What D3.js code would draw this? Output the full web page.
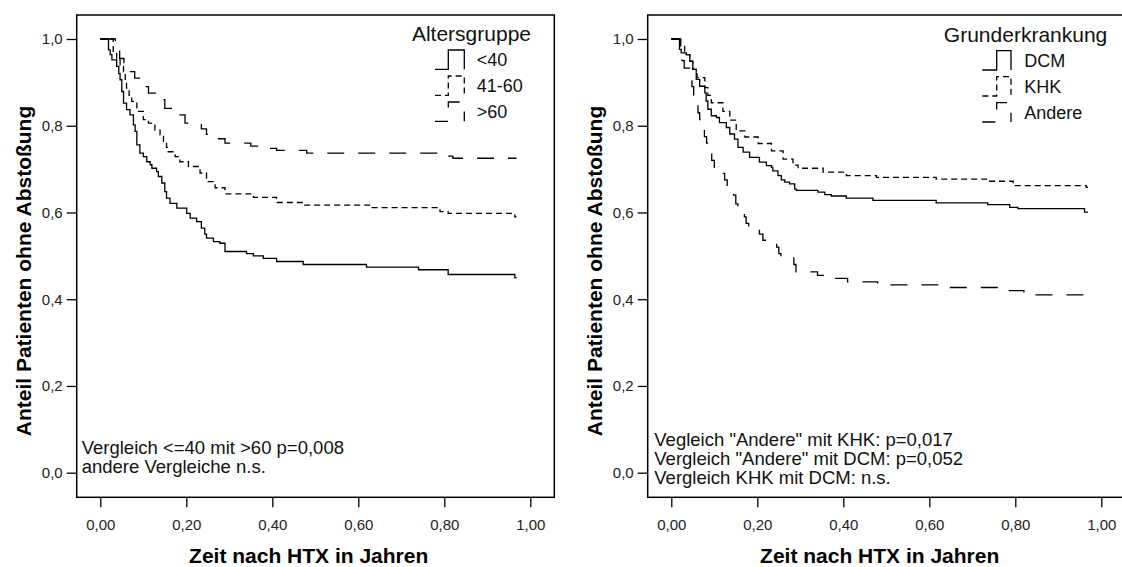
<!DOCTYPE html>
<html lang="de">
<head>
<meta charset="utf-8">
<title>Abstoßungsfreiheit nach HTX</title>
<style>
  body { margin: 0; background: #fff; }
  svg { display: block; font-family: "Liberation Sans", Arial, Helvetica, sans-serif; }
  .frame { fill: none; stroke: #000; stroke-width: 1.5px; }
  .curve { fill: none; stroke: #000; stroke-width: 1.3px; }
  .axis text { font-size: 15px; fill: #222; }
  .axis line { stroke: #000; stroke-width: 1.3px; }
  .axis .domain { display: none; }
  .axis-title { font-size: 21px; font-weight: bold; fill: #000; }
  .legend-title { font-size: 21px; fill: #111; }
  .legend-item { font-size: 18px; fill: #111; }
  .note { font-size: 18.5px; fill: #111; }
</style>
</head>
<body>
<div id="chart"></div>
<script src="https://d3js.org/d3.v7.min.js"></script>
<script>
var width = 1122, height = 567;

var xTicks = [0, 0.2, 0.4, 0.6, 0.8, 1.0];
var yTicks = [0, 0.2, 0.4, 0.6, 0.8, 1.0];
var xTitle = "Zeit nach HTX in Jahren";
var yTitle = "Anteil Patienten ohne Abstoßung";

// Altersgruppe -- [Zeit in Jahren, Anteil ohne Abstoßung]
var ageLabels = ["<40", "41-60", ">60"];
var ageUnder40 = [
  [0, 1.0], [0.019, 0.975], [0.023, 0.964], [0.027, 0.952], [0.038, 0.937], [0.043, 0.92],
  [0.046, 0.906], [0.05, 0.879], [0.054, 0.852], [0.061, 0.837], [0.069, 0.825], [0.077, 0.802],
  [0.081, 0.787], [0.085, 0.756], [0.092, 0.737], [0.1, 0.729], [0.108, 0.717], [0.116, 0.71],
  [0.12, 0.702], [0.131, 0.694], [0.135, 0.683], [0.143, 0.668], [0.15, 0.648], [0.154, 0.633],
  [0.162, 0.621], [0.178, 0.61], [0.201, 0.598], [0.209, 0.587], [0.224, 0.579], [0.235, 0.564],
  [0.243, 0.55], [0.247, 0.541], [0.263, 0.533], [0.278, 0.529], [0.29, 0.51], [0.34, 0.505],
  [0.356, 0.5], [0.379, 0.494], [0.41, 0.487], [0.472, 0.48], [0.619, 0.474], [0.74, 0.468],
  [0.809, 0.457], [0.964, 0.449], [0.968, 0.449]
];
var age41to60 = [
  [0, 1.0], [0.03, 0.967], [0.038, 0.952], [0.046, 0.94], [0.054, 0.925], [0.058, 0.905],
  [0.061, 0.887], [0.067, 0.87], [0.073, 0.856], [0.085, 0.833], [0.1, 0.814], [0.112, 0.806],
  [0.127, 0.79], [0.139, 0.779], [0.147, 0.764], [0.154, 0.75], [0.158, 0.74], [0.174, 0.729],
  [0.185, 0.717], [0.205, 0.706], [0.232, 0.691], [0.247, 0.671], [0.267, 0.657], [0.29, 0.643],
  [0.356, 0.635], [0.41, 0.623], [0.472, 0.617], [0.63, 0.611], [0.79, 0.602], [0.809, 0.598],
  [0.964, 0.59], [0.968, 0.59]
];
var ageOver60 = [
  [0, 1.0], [0.035, 0.975], [0.045, 0.955], [0.055, 0.94], [0.07, 0.925], [0.08, 0.91],
  [0.1, 0.89], [0.112, 0.875], [0.14, 0.86], [0.15, 0.84], [0.175, 0.825], [0.197, 0.806],
  [0.235, 0.793], [0.247, 0.78], [0.275, 0.77], [0.29, 0.76], [0.35, 0.753], [0.38, 0.748],
  [0.41, 0.743], [0.48, 0.737], [0.79, 0.73], [0.82, 0.725], [0.968, 0.725]
];
var ageNotes = ["Vergleich <=40 mit >60 p=0,008", "andere Vergleiche n.s."];

// Grunderkrankung
var diseaseLabels = ["DCM", "KHK", "Andere"];
var dcm = [
  [0, 1.0], [0.019, 0.976], [0.023, 0.968], [0.035, 0.964], [0.043, 0.949], [0.05, 0.93],
  [0.058, 0.907], [0.066, 0.891], [0.078, 0.876], [0.081, 0.857], [0.085, 0.838], [0.093, 0.823],
  [0.105, 0.819], [0.112, 0.807], [0.128, 0.796], [0.136, 0.781], [0.147, 0.769], [0.155, 0.75],
  [0.167, 0.739], [0.182, 0.727], [0.205, 0.716], [0.221, 0.708], [0.233, 0.704], [0.236, 0.696],
  [0.248, 0.685], [0.256, 0.675], [0.264, 0.67], [0.275, 0.666], [0.287, 0.654], [0.291, 0.651],
  [0.341, 0.647], [0.357, 0.641], [0.372, 0.638], [0.407, 0.633], [0.469, 0.628], [0.616, 0.622],
  [0.736, 0.618], [0.787, 0.612], [0.806, 0.609], [0.961, 0.601], [0.969, 0.601]
];
var khk = [
  [0, 1.0], [0.02, 0.985], [0.031, 0.964], [0.043, 0.949], [0.05, 0.93], [0.06, 0.911],
  [0.078, 0.888], [0.085, 0.87], [0.093, 0.853], [0.12, 0.833], [0.136, 0.813], [0.151, 0.788],
  [0.171, 0.774], [0.202, 0.759], [0.233, 0.742], [0.26, 0.723], [0.283, 0.709], [0.295, 0.702],
  [0.353, 0.693], [0.407, 0.685], [0.477, 0.681], [0.616, 0.677], [0.736, 0.672], [0.795, 0.662],
  [0.965, 0.658], [0.969, 0.658]
];
var andere = [
  [0, 1.0], [0.022, 0.975], [0.025, 0.95], [0.03, 0.933], [0.045, 0.915], [0.048, 0.89],
  [0.052, 0.871], [0.06, 0.85], [0.062, 0.83], [0.066, 0.814], [0.075, 0.795], [0.077, 0.775],
  [0.082, 0.76], [0.09, 0.74], [0.094, 0.72], [0.1, 0.702], [0.12, 0.69], [0.124, 0.675],
  [0.13, 0.66], [0.145, 0.64], [0.15, 0.62], [0.155, 0.605], [0.17, 0.59], [0.174, 0.575],
  [0.18, 0.567], [0.205, 0.55], [0.213, 0.536], [0.245, 0.52], [0.25, 0.505], [0.255, 0.495],
  [0.285, 0.48], [0.29, 0.463], [0.34, 0.455], [0.36, 0.448], [0.41, 0.44], [0.48, 0.433],
  [0.63, 0.427], [0.765, 0.42], [0.82, 0.41], [0.961, 0.4], [0.969, 0.4]
];
var diseaseNotes = [
  "Vegleich \"Andere\" mit KHK: p=0,017",
  "Vergleich \"Andere\" mit DCM: p=0,052",
  "Vergleich KHK mit DCM: n.s."
];

var dashes = [null, "6,4", "17,14"];

var panels = [
  {
    left: 76.7, legendTitle: "Altersgruppe", labels: ageLabels,
    series: [ageUnder40, age41to60, ageOver60], notes: ageNotes,
    lg: { titleX: 531, titleY: 41, x0: 435, x1: 448.3, x2: 464.3, textX: 476.7, rows: [66, 92, 118] },
    noteX: 81.7, noteY: 454, noteStep: 19.3
  },
  {
    left: 647.7, legendTitle: "Grunderkrankung", labels: diseaseLabels,
    series: [dcm, khk, andere], notes: diseaseNotes,
    lg: { titleX: 1107.3, titleY: 41.7, x0: 982.3, x1: 996.7, x2: 1011, textX: 1024.3, rows: [66.7, 92.7, 118.7] },
    noteX: 654.3, noteY: 446, noteStep: 19.2
  }
];

var frameTop = 15, frameBottom = 497.3, frameWidth = 477.6;

var svg = d3.select("#chart")
    .append("svg")
    .attr("width", width)
    .attr("height", height);

function fmtX(d) { return d3.format(".2f")(d).replace(".", ","); }
function fmtY(d) { return d3.format(".1f")(d).replace(".", ","); }

panels.forEach(function(p) {
  var g = svg.append("g");

  var x = d3.scaleLinear().domain([0, 1]).range([p.left + 23.6, p.left + 453.6]);
  var y = d3.scaleLinear().domain([0, 1]).range([472.7, 39]);

  g.append("rect")
      .attr("class", "frame")
      .attr("x", p.left)
      .attr("y", frameTop)
      .attr("width", frameWidth)
      .attr("height", frameBottom - frameTop);

  g.append("g")
      .attr("class", "axis")
      .attr("transform", "translate(0," + frameBottom + ")")
      .call(d3.axisBottom(x).tickValues(xTicks).tickSize(10).tickPadding(12).tickFormat(fmtX));

  g.append("g")
      .attr("class", "axis")
      .attr("transform", "translate(" + p.left + ",0)")
      .call(d3.axisLeft(y).tickValues(yTicks).tickSize(10).tickPadding(4).tickFormat(fmtY));

  var line = d3.line()
      .x(function(d) { return x(d[0]); })
      .y(function(d) { return y(d[1]); })
      .curve(d3.curveStepAfter);

  g.selectAll("path.curve")
      .data(p.series)
    .enter().append("path")
      .attr("class", "curve")
      .attr("d", line)
      .attr("stroke-dasharray", function(d, i) { return dashes[i]; });

  // axis titles
  g.append("text")
      .attr("class", "axis-title")
      .attr("x", p.left + 232)
      .attr("y", 563)
      .attr("text-anchor", "middle")
      .text(xTitle);

  g.append("text")
      .attr("class", "axis-title")
      .attr("transform", "translate(" + (p.left - 45.5) + ",271) rotate(-90)")
      .attr("text-anchor", "middle")
      .text(yTitle);

  // legend
  var lg = p.lg;
  g.append("text")
      .attr("class", "legend-title")
      .attr("x", lg.titleX)
      .attr("y", lg.titleY)
      .attr("text-anchor", "end")
      .text(p.legendTitle);

  p.labels.forEach(function(label, i) {
    var b = lg.rows[i];
    g.append("path")
        .attr("class", "curve")
        .attr("d", "M" + lg.x0 + "," + (b + 3.3) + "H" + lg.x1 + "V" + (b - 16) + "H" + lg.x2 + "V" + (b + 3.3))
        .attr("stroke-dasharray", dashes[i])
        .attr("stroke-dashoffset", i == 2 ? 4 : 0);
    g.append("text")
        .attr("class", "legend-item")
        .attr("x", lg.textX)
        .attr("y", b)
        .text(label);
  });

  // comparison notes
  p.notes.forEach(function(n, i) {
    g.append("text")
        .attr("class", "note")
        .attr("x", p.noteX)
        .attr("y", p.noteY + i * p.noteStep)
        .text(n);
  });
});
</script>
</body>
</html>
